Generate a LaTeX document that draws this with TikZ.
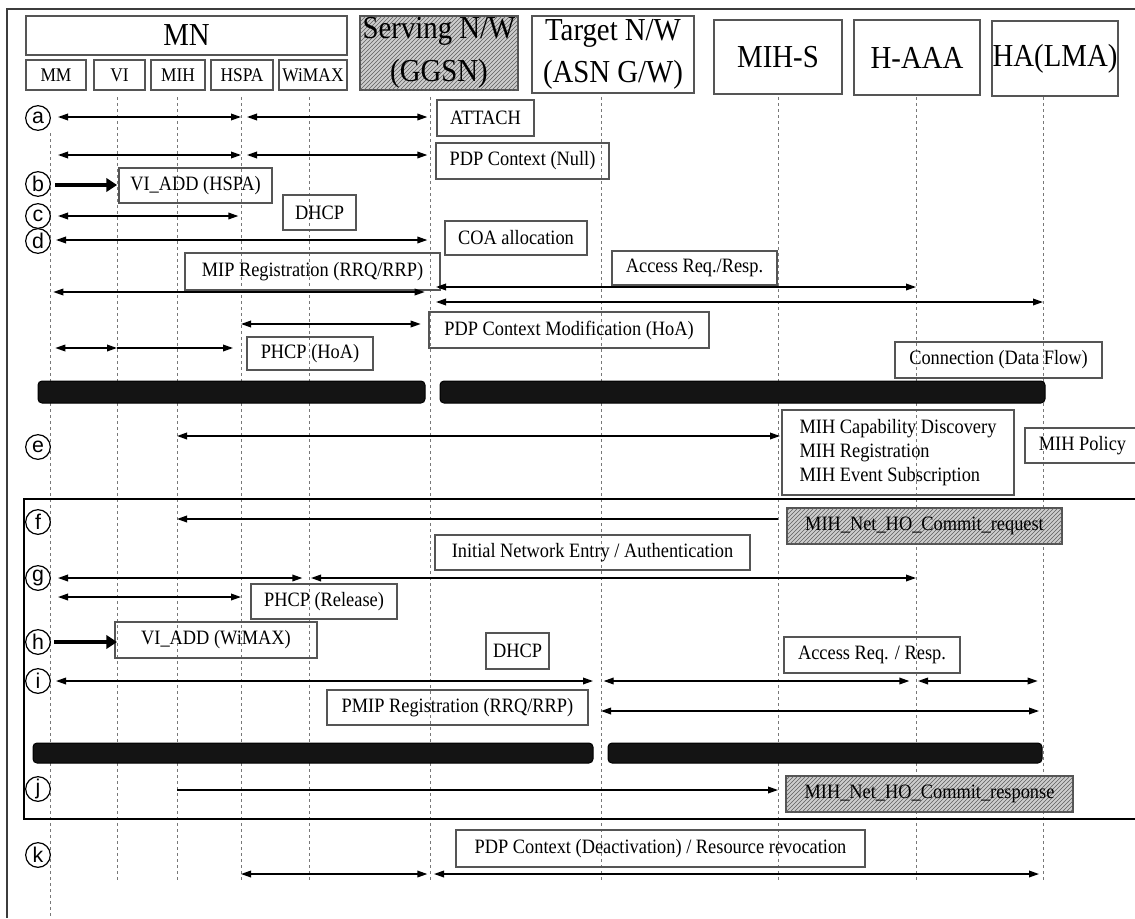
\documentclass[tikz,border=0pt]{standalone}
\usepackage{fontspec}
\setmainfont[FakeStretch=0.9]{Liberation Serif}
\newfontfamily\stepfont{Liberation Sans}
\usetikzlibrary{arrows.meta,patterns}

\tikzset{every picture/.style={line width=0.75pt}}
\tikzset{
  pxbox/.style 2 args={draw={rgb,255:red,85;green,85;blue,85}, line width=0.9pt, minimum width=#1*0.75pt, minimum height=#2*0.75pt, inner sep=0pt},
  hdrbox/.style 2 args={pxbox={#1}{#2}, font=\fontsize{24}{32}\selectfont},
  subbox/.style 2 args={pxbox={#1}{#2}, font=\fontsize{14.5}{16}\selectfont},
  msgbox/.style 2 args={pxbox={#1}{#2}, font=\fontsize{15.3}{18}\selectfont},
  hatch/.style={fill={rgb,255:red,205;green,205;blue,205}, postaction={pattern=north east lines, pattern color={rgb,255:red,95;green,95;blue,95}}},
  life/.style={draw={rgb,255:red,120;green,120;blue,120}, line width=0.7pt, dash pattern=on 2.5pt off 2pt},
  biarr/.style={line width=1pt, {Triangle[length=7.5pt,width=5pt]}-{Triangle[length=7.5pt,width=5pt]}},
  oneway/.style={line width=1pt, -{Triangle[length=7.5pt,width=5pt]}},
  fatarr/.style={line width=3.2pt, -{Triangle[length=8pt,width=10pt]}},
  bar/.style={fill={rgb,255:red,20;green,20;blue,20}, rounded corners=3pt},
  stepmark/.style={circle, draw, line width=0.9pt, minimum size=18.5pt, inner sep=0pt, font=\stepfont\fontsize{16}{16}\selectfont}
}

\begin{document}
\begin{tikzpicture}[x=0.75pt,y=0.75pt,yscale=-1,xscale=1]
	\useasboundingbox (0,0) rectangle (1135,918);
	
	%Shape: outer frame
	\draw [draw={rgb,255:red,60;green,60;blue,60}, line width=1.1pt] (1135,9) -- (7,9) -- (7,918) ;
	
	%Lifelines
	\coordinate (lmm) at (50,133);
	\coordinate (lvi) at (117,97);
	\coordinate (lmih) at (177,97);
	\coordinate (lhspa) at (241,97);
	\coordinate (lwimax) at (309,97);
	\coordinate (lserv) at (430,97);
	\coordinate (ltgt) at (601,97);
	\coordinate (lmihs) at (778,97);
	\coordinate (lhaaa) at (916,97);
	\coordinate (lha) at (1043,97);
	\draw [life] (lmm) -- (lmm |- 0,918) ;
	\foreach \l in {lvi,lmih,lhspa,lwimax,lserv,ltgt,lmihs,lhaaa,lha}
		\draw [life] (\l) -- (\l |- 0,882) ;
	
	% Header Nodes
	\node [hdrbox={321}{39}] (mn) at (186.5,35.5) {MN};
	\node [subbox={60}{30}] (mm) at (56,75) {MM};
	\node [subbox={51}{30}] (vi) at (119.5,75) {VI};
	\node [subbox={54}{30}] (mih) at (178,75) {MIH};
	\node [subbox={62}{30}] (hspa) at (242,75) {HSPA};
	\node [subbox={68}{30}] (wimax) at (313,75) {WiMAX};
	\node [hdrbox={158}{74}, hatch, align=center] (serv) at (439,53) {Serving N/W\\(GGSN)};
	\node [hdrbox={162}{77}, align=center] (tgt) at (613,54.5) {Target N/W\\(ASN G/W)};
	\node [hdrbox={128}{74}] (mihs) at (778,57) {MIH-S};
	\node [hdrbox={126}{75}] (haaa) at (917,57.5) {H-AAA};
	\node [hdrbox={126}{75}] (ha) at (1055,58.5) {HA(LMA)};
	
	% Step Marks
	\foreach \c/\y in {a/118,b/184,c/216,d/241,e/447,f/522,g/578,h/642,i/681,j/789,k/855}
		\node [stepmark] (s\c) at (38,\y) {\c};
	
	%Shape: black bars
	\draw [bar] (38,381) rectangle (425,403) ;
	\draw [bar] (440,381) rectangle (1045,403) ;
	\draw [bar] (33,743) rectangle (593,763) ;
	\draw [bar] (608,743) rectangle (1042,763) ;
	
	%Shape: handover frame
	\draw [line width=2.2pt] (1135,499) -- (24,499) -- (24,819) -- (1135,819) ;
	
	% Text Nodes
	\node [msgbox={97}{36}] (attach) at (485.5,118) {ATTACH};
	\node [msgbox={173}{36}] (pdpnull) at (522.5,161) {PDP Context (Null)};
	\node [msgbox={153}{35}] (viaddh) at (195.5,185.5) {VI\_ADD (HSPA)};
	\node [msgbox={73}{35}] (dhcpa) at (319.5,212.5) {DHCP};
	\node [msgbox={142}{34}] (coa) at (516,238) {COA allocation};
	\node [msgbox={255}{37}] (mipreg) at (312.5,271.5) {MIP Registration (RRQ/RRP)};
	\node [msgbox={165}{34}] (accessa) at (694.5,268) {Access Req./Resp.};
	\node [msgbox={280}{36}] (pdpmod) at (569,330) {PDP Context Modification (HoA)};
	\node [msgbox={126}{33}] (phcphoa) at (310,353.5) {PHCP (HoA)};
	\node [msgbox={207}{36}] (conn) at (998.5,360) {Connection (Data Flow)};
	\node [msgbox={232}{85}, align=left] (mihcap) at (898,452.5) {MIH Capability Discovery\\MIH Registration\\MIH Event Subscription};
	\node [msgbox={115}{35}] (mihpol) at (1082.5,445.5) {MIH Policy};
	\node [msgbox={275}{36}, hatch] (commitreq) at (924.5,526) {MIH\_Net\_HO\_Commit\_request};
	\node [msgbox={315}{35}] (initnet) at (592.5,552.5) {Initial Network Entry / Authentication};
	\node [msgbox={146}{35}] (phcprel) at (324,601.5) {PHCP (Release)};
	\node [msgbox={202}{36}] (viaddw) at (216,640) {VI\_ADD (WiMAX)};
	\node [msgbox={63}{36}] (dhcpb) at (517.5,651) {DHCP};
	\node [msgbox={176}{36}] (accessb) at (872,655) {Access Req. / Resp.};
	\node [msgbox={261}{35}] (pmipreg) at (457.5,707.5) {PMIP Registration (RRQ/RRP)};
	\node [msgbox={287}{36}, hatch] (commitresp) at (929.5,794) {MIH\_Net\_HO\_Commit\_response};
	\node [msgbox={409}{37}] (pdpdeact) at (660.5,848.5) {PDP Context (Deactivation) / Resource revocation};
	
	%Straight Lines: messages
	\draw [biarr] ([xshift=6]lmm |- 0,117) -- (lhspa |- 0,117) ;
	\draw [biarr] ([xshift=4.5]lhspa |- 0,117) -- ([xshift=-2]lserv |- 0,117) ;
	\draw [biarr] ([xshift=6]lmm |- 0,155) -- (lhspa |- 0,155) ;
	\draw [biarr] ([xshift=4.5]lhspa |- 0,155) -- ([xshift=-2]lserv |- 0,155) ;
	\draw [fatarr] ([xshift=4]lmm |- 0,185) -- (lvi |- 0,185) ;
	\draw [biarr] ([xshift=6]lmm |- 0,216) -- ([xshift=-2]lhspa |- 0,216) ;
	\draw [biarr] ([xshift=4.5]lmm |- 0,240) -- ([xshift=-2]lserv |- 0,240) ;
	\draw [biarr] ([xshift=2.5]lmm |- 0,292) -- ([xshift=-4]lserv |- 0,292) ;
	\draw [biarr] ([xshift=4.5]lserv |- 0,287) -- (lhaaa |- 0,287) ;
	\draw [biarr] ([xshift=4.5]lserv |- 0,302) -- (lha |- 0,302) ;
	\draw [biarr] (lhspa |- 0,324) -- ([xshift=-7]lserv |- 0,324) ;
	\draw [biarr] ([xshift=4]lmm |- 0,348) -- (lvi |- 0,348) ;
	\draw [oneway] (lvi |- 0,348) -- ([xshift=-6]lhspa |- 0,348) ;
	\draw [biarr] (lmih |- 0,436) -- ([xshift=1.5]lmihs |- 0,436) ;
	\draw [oneway] (lmihs |- 0,519) -- (lmih |- 0,519) ;
	\draw [biarr] ([xshift=6]lmm |- 0,578) -- ([xshift=-5]lwimax |- 0,578) ;
	\draw [biarr] ([xshift=1.5]lwimax |- 0,578) -- (lhaaa |- 0,578) ;
	\draw [biarr] ([xshift=6]lmm |- 0,597) -- (lhspa |- 0,597) ;
	\draw [fatarr] ([xshift=3]lmm |- 0,642) -- (lvi |- 0,642) ;
	\draw [biarr] ([xshift=4.5]lmm |- 0,681) -- ([xshift=-6]ltgt |- 0,681) ;
	\draw [biarr] ([xshift=2]ltgt |- 0,681) -- ([xshift=-5]lhaaa |- 0,681) ;
	\draw [biarr] ([xshift=1.5]lhaaa |- 0,681) -- ([xshift=-4]lha |- 0,681) ;
	\draw [biarr] (ltgt |- 0,711) -- ([xshift=-3]lha |- 0,711) ;
	\draw [oneway] (lmih |- 0,790) -- (lmihs |- 0,790) ;
	\draw [biarr] (lhspa |- 0,874) -- ([xshift=-2]lserv |- 0,874) ;
	\draw [biarr] ([xshift=3]lserv |- 0,874) -- ([xshift=-3]lha |- 0,874) ;
	
\end{tikzpicture}
\end{document}
